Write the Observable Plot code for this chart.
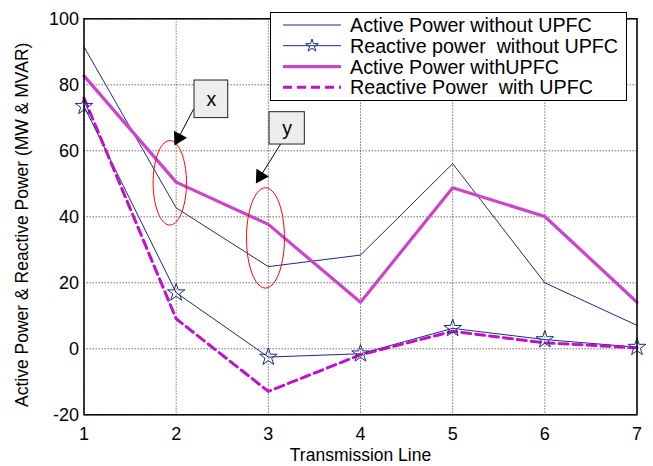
<!DOCTYPE html>
<html><head><meta charset="utf-8">
<script src="https://cdn.jsdelivr.net/npm/d3@7"></script>
<script src="https://cdn.jsdelivr.net/npm/@observablehq/plot@0.6"></script>
<style>
body{margin:0;background:#fff;}
#wrap{position:relative;width:653px;height:466px;font-family:"Liberation Sans",Arial,sans-serif;}
#legend{position:absolute;left:270px;top:12px;}
</style></head>
<body><div id="wrap"></div>
<script>
const lines = [1, 2, 3, 4, 5, 6, 7];
const activeWithout = [91.5, 42.7, 24.9, 28.4, 56.1, 20.0, 7.1];
const reactiveWithout = [73.5, 17.0, -2.5, -1.5, 6.2, 2.8, 0.5];
const activeWith = [82.7, 50.5, 37.7, 14.1, 48.8, 40.1, 14.1];
const reactiveWith = [76.0, 9.1, -12.9, -1.8, 5.3, 1.8, 0.3];
const xTicks = [1, 2, 3, 4, 5, 6, 7];
const yTicks = [-20, 0, 20, 40, 60, 80, 100];
const seriesNames = ["Active Power without UPFC", "Reactive power  without UPFC", "Active Power withUPFC", "Reactive Power  with UPFC"];
const xLabel = "Transmission Line";
const yLabel = "Active Power & Reactive Power (MW & MVAR)";
// annotations (data coordinates)
const boxes = [{label: "x", x1: 2.199, x2: 2.565, y1: 69.9, y2: 81.3}, {label: "y", x1: 3.013, x2: 3.396, y1: 61.9, y2: 71.7}];
const arrows = [{x1: 2.19, y1: 72.7, x2: 2.0, y2: 62.6, hx: 2.025, hy: 63.9, rot: 208}, {x1: 3.168, y1: 63.6, x2: 2.886, y2: 51.0, hx: 2.914, hy: 52.3, rot: 212}];
const ellipses = [{cx: 1.931, cy: 50.3, rx: 0.181, ry: 12.8}, {cx: 2.969, cy: 33.6, rx: 0.206, ry: 15.2}];

const navy = "#1c2c7c", mag = "#cc44cc", magD = "#c010c8";
const mk = arr => lines.map((x, i) => ({x, y: arr[i]}));
const ellPts = ellipses.flatMap((e, k) => d3.range(73).map(j => {
  const t = j / 72 * 2 * Math.PI;
  return {k, x: e.cx + e.rx * Math.cos(t), y: e.cy + e.ry * Math.sin(t)};
}));

const plot = Plot.plot({
  width: 653, height: 466,
  marginLeft: 83.5, marginRight: 16.5, marginTop: 18.3, marginBottom: 51.7,
  style: {fontFamily: "Liberation Sans, Arial, sans-serif", fontSize: "18px", color: "#000", background: "#fff"},
  x: {domain: [1, 7], ticks: xTicks, tickFormat: d => String(d), label: null, tickSize: 0, tickPadding: 12},
  y: {domain: [-20, 100], ticks: yTicks, tickFormat: d => String(d), label: null, tickSize: 0, tickPadding: 5},
  marks: [
    Plot.ruleX(xTicks, {stroke: "#000", strokeOpacity: 0.55, strokeDasharray: "1.5,1.5"}),
    Plot.ruleY(yTicks, {stroke: "#000", strokeOpacity: 0.55, strokeDasharray: "1.5,1.5"}),
    Plot.line(mk(activeWithout), {x: "x", y: "y", stroke: navy, strokeWidth: 1}),
    Plot.line(mk(reactiveWithout), {x: "x", y: "y", stroke: navy, strokeWidth: 1}),
    Plot.line(mk(activeWith), {x: "x", y: "y", stroke: mag, strokeWidth: 3.2}),
    Plot.line(mk(reactiveWith), {x: "x", y: "y", stroke: magD, strokeWidth: 3, strokeDasharray: "9,5"}),
    Plot.dot(mk(reactiveWithout), {x: "x", y: "y", symbol: "star", r: 5.5, fill: "none", stroke: navy, strokeWidth: 1}),
    Plot.line(ellPts, {x: "x", y: "y", z: "k", stroke: "red", strokeWidth: 1}),
    Plot.link(arrows, {x1: "x1", y1: "y1", x2: "x2", y2: "y2", stroke: "#000", strokeWidth: 1}),
    Plot.dot(arrows, {x: "hx", y: "hy", symbol: "triangle", r: 5.5, fill: "#000", stroke: "none", rotate: "rot"}),
    Plot.rect(boxes, {x1: "x1", x2: "x2", y1: "y1", y2: "y2", fill: "#ededed", stroke: "#222", strokeWidth: 1}),
    Plot.text(boxes, {x: d => (d.x1 + d.x2) / 2, y: d => (d.y1 + d.y2) / 2, text: "label", fontSize: 19.5, fill: "#000"}),
    Plot.frame({stroke: "#000", strokeWidth: 1.5}),
    Plot.text([xLabel], {frameAnchor: "bottom", lineAnchor: "middle", textAnchor: "middle", dy: 41, fontSize: 17.5, fill: "#000"}),
    Plot.text([yLabel], {frameAnchor: "left", lineAnchor: "middle", textAnchor: "middle", dx: -62, dy: 8, rotate: -90, fontSize: 17.5, fill: "#000"})
  ]
});
const wrap = document.getElementById("wrap");
wrap.appendChild(plot);

// legend
const lg = d3.select(wrap).append("div").attr("id", "legend")
  .append("svg").attr("width", 357).attr("height", 89)
  .style("font-family", "Liberation Sans, Arial, sans-serif");
lg.append("rect").attr("x", 0.5).attr("y", 0.5).attr("width", 356).attr("height", 88).attr("fill", "#fff").attr("stroke", "#000");
const rowY = [13, 33.7, 54.6, 75.2];
const styles = [
  {stroke: navy, w: 1, dash: null, star: false},
  {stroke: navy, w: 1, dash: null, star: true},
  {stroke: mag, w: 3.2, dash: null, star: false},
  {stroke: magD, w: 3, dash: "9,5", star: false}
];
seriesNames.forEach((name, i) => {
  const s = styles[i];
  lg.append("line").attr("x1", 13).attr("x2", 71).attr("y1", rowY[i]).attr("y2", rowY[i])
    .attr("stroke", s.stroke).attr("stroke-width", s.w).attr("stroke-dasharray", s.dash);
  if (s.star) lg.append("path").attr("d", d3.symbol(d3.symbolStar, 50)()).attr("transform", `translate(42,${rowY[i]})`)
    .attr("fill", "none").attr("stroke", navy);
  lg.append("text").attr("x", 80).attr("y", rowY[i] + 7).attr("font-size", 19.7).attr("fill", "#000")
    .style("white-space", "pre").attr("xml:space", "preserve").text(name);
});
</script></body></html>
